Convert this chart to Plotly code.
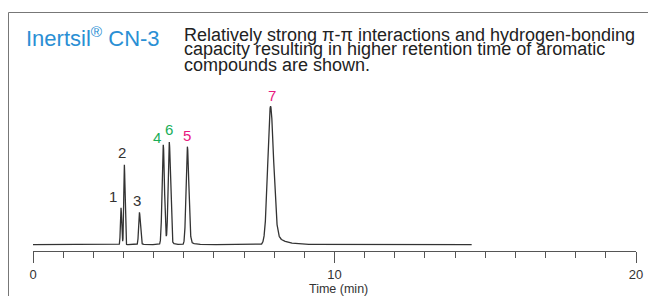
import numpy as np
import plotly.graph_objects as go

# Peak table
peak_ids = ["1", "2", "3", "4", "6", "5", "7"]
peak_times = [2.92, 3.03, 3.53, 4.32, 4.52, 5.12, 7.88]      # min
peak_heights = [37, 80, 32.5, 100, 102, 98, 138.5]          # relative response
peak_sigma_left = [0.020, 0.020, 0.026, 0.038, 0.038, 0.043, 0.092]
peak_sigma_right = [0.022, 0.022, 0.030, 0.040, 0.040, 0.048, 0.100]
peak_tail = [0.0, 0.0, 0.05, 0.03, 0.03, 0.05, 0.12]
label_colors = ["#333333", "#333333", "#333333", "#1aae5a", "#1aae5a", "#e8197f", "#e8197f"]
label_x = [2.64, 2.96, 3.44, 4.10, 4.52, 5.12, 7.92]
label_y = [48, 92.4, 44.7, 107.7, 115.7, 109, 148.9]

run_end = 14.55
x_ticks = [0, 10, 20]

title_text = "Inertsil<sup>®</sup> CN-3"
desc_lines = [
    "Relatively strong π-π interactions and hydrogen-bonding",
    "capacity resulting in higher retention time of aromatic",
    "compounds are shown.",
]
x_title = "Time (min)"

# Build trace from peak table
t = np.linspace(0, run_end, 8000)
sig = np.zeros_like(t)
for tr, h, sl, sr, tl in zip(peak_times, peak_heights, peak_sigma_left, peak_sigma_right, peak_tail):
    d = t - tr
    left = np.exp(-d**2 / (2 * sl**2))
    right = (1 - tl) * np.exp(-d**2 / (2 * sr**2)) + tl * np.exp(-np.clip(d, 0, None) / (3 * sr))
    sig += h * np.where(d < 0, left, right)

fig = go.Figure()
fig.add_trace(go.Scatter(x=t, y=sig, mode="lines",
                         line=dict(color="#333333", width=1.3),
                         hoverinfo="skip", showlegend=False))

W, H = 648, 296
L, R = 33, 12
T, B = 60, 296 - 251
pw, ph = W - L - R, H - T - B

def px(x):  # window pixel -> paper
    return (x - L) / pw

def py(y):
    return (H - B - y) / ph

FONT = "Liberation Sans, Arial, sans-serif"
ann = []
for pid, lx, ly, c in zip(peak_ids, label_x, label_y, label_colors):
    ann.append(dict(x=lx, y=ly, xref="x", yref="y", text=pid, showarrow=False,
                    font=dict(family=FONT, size=15, color=c),
                    xanchor="center", yanchor="middle"))

ann.append(dict(x=px(24), y=py(37.5), xref="paper", yref="paper", text=title_text,
                showarrow=False, xanchor="left", yanchor="middle",
                font=dict(family=FONT, size=22, color="#2a8fd4")))
for i, line in enumerate(desc_lines):
    ann.append(dict(x=px(182), y=py(34.5 + 15 * i), xref="paper", yref="paper",
                    text=line, showarrow=False, xanchor="left", yanchor="middle",
                    font=dict(family=FONT, size=18, color="#222222")))
ann.append(dict(x=px(338), y=py(288.5), xref="paper", yref="paper", text=x_title,
                showarrow=False, xanchor="center", yanchor="middle",
                font=dict(family=FONT, size=12.5, color="#333333")))

shapes = [
    dict(type="line", xref="paper", yref="paper", x0=px(8.5), x1=px(8.5), y0=py(12.5), y1=py(310),
         line=dict(color="#777777", width=1)),
    dict(type="line", xref="paper", yref="paper", x0=px(8.5), x1=px(660), y0=py(12.5), y1=py(12.5),
         line=dict(color="#777777", width=1)),
]

fig.update_layout(
    width=W, height=H,
    margin=dict(l=L, r=R, t=T, b=B, autoexpand=False),
    paper_bgcolor="white", plot_bgcolor="white",
    annotations=ann, shapes=shapes,
    xaxis=dict(range=[0, 20], tickvals=x_ticks, ticktext=[str(v) for v in x_ticks],
               ticks="outside", ticklen=11, tickcolor="#555555", tickwidth=1,
               showline=True, linecolor="#555555", linewidth=1,
               showgrid=False, zeroline=False, automargin=False,
               ticklabeloverflow="allow",
               minor=dict(dtick=1, tick0=0, ticks="outside", ticklen=6,
                          tickcolor="#555555", tickwidth=1, showgrid=False),
               tickfont=dict(family=FONT, size=13, color="#333333")),
    yaxis=dict(range=[-6.3, ph - 6.3], visible=False, showgrid=False, zeroline=False),
)

fig.write_html("out.html", config={"displayModeBar": False},
               post_script="document.body.style.margin='0';document.body.style.overflow='hidden';")
